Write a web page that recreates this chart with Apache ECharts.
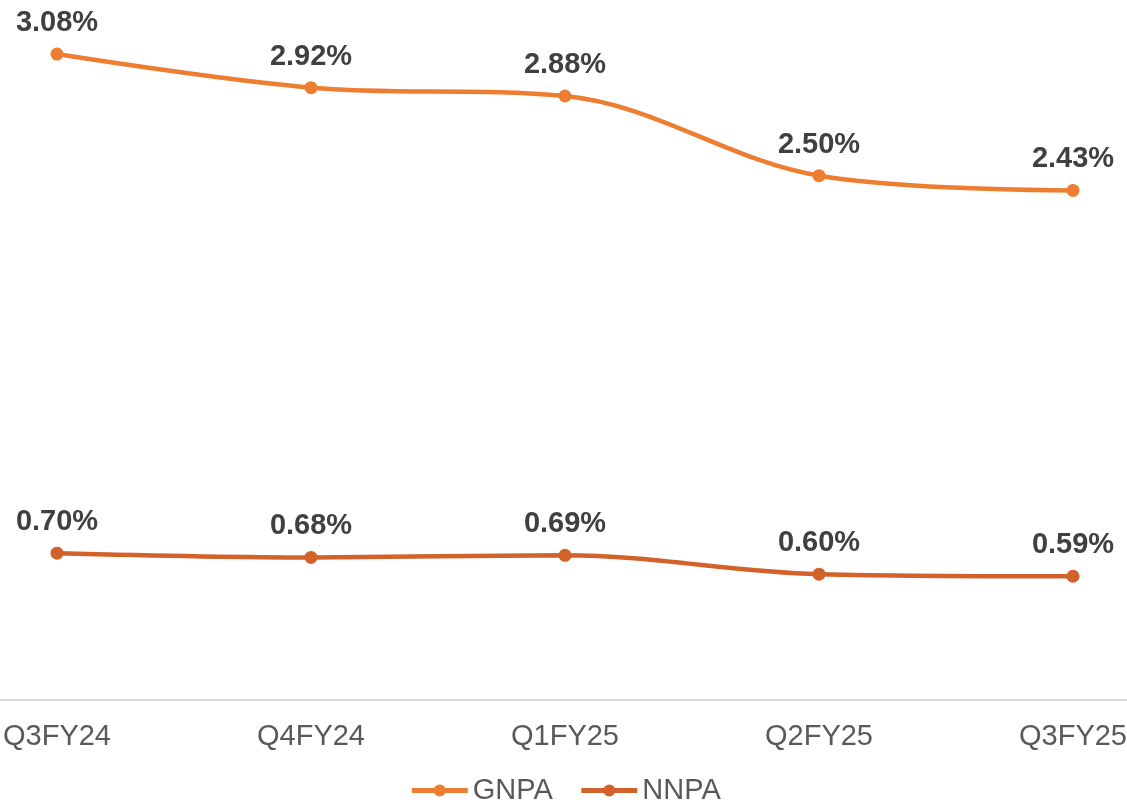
<!DOCTYPE html>
<html><head><meta charset="utf-8">
<script src="https://cdn.jsdelivr.net/npm/echarts@6/dist/echarts.min.js"></script>
<style>html,body{margin:0;padding:0;background:#fff;overflow:hidden;width:1127px;height:807px}#c{width:1270px;height:847px;margin-left:-70px;margin-top:-34px}</style>
</head><body><div id="c"></div>
<script>
const categories = ['Q3FY24','Q4FY24','Q1FY25','Q2FY25','Q3FY25'];
const gnpa = [3.08, 2.92, 2.88, 2.50, 2.43];
const nnpa = [0.70, 0.68, 0.69, 0.60, 0.59];
const seriesNames = ['GNPA','NNPA'];

const chart = echarts.init(document.getElementById('c'), null, {renderer:'canvas'});
const font = '"Liberation Sans", Arial, sans-serif';
function mk(name, data, color){
  return {
    name, type:'line', data, smooth:0.35, symbol:'circle', symbolSize:13,
    lineStyle:{width:4.5,color}, itemStyle:{color},
    label:{show:true, position:'top', distance:10, formatter:p=>p.value.toFixed(2)+'%',
      fontFamily:font, fontSize:29, fontWeight:'bold', color:'#404040'}
  };
}
chart.setOption({
  animation:false,
  grid:{left:0, right:0, top:0, bottom:113, containLabel:false},
  legend:{bottom:3, left:'center', itemWidth:56, itemHeight:15, itemGap:26,
    lineStyle:{width:5},
    textStyle:{fontFamily:font, fontSize:29, color:'#595959'}, data:seriesNames},
  xAxis:{type:'category', data:categories, boundaryGap:true,
    axisLine:{lineStyle:{color:'#d9d9d9', width:2}}, axisTick:{show:false},
    axisLabel:{fontFamily:font, fontSize:29, color:'#595959', margin:22}},
  yAxis:{type:'value', min:0, max:3.5, show:false, splitLine:{show:false}},
  series:[mk(seriesNames[0], gnpa, '#ED7D31'), mk(seriesNames[1], nnpa, '#D2622A')]
});
</script></body></html>
